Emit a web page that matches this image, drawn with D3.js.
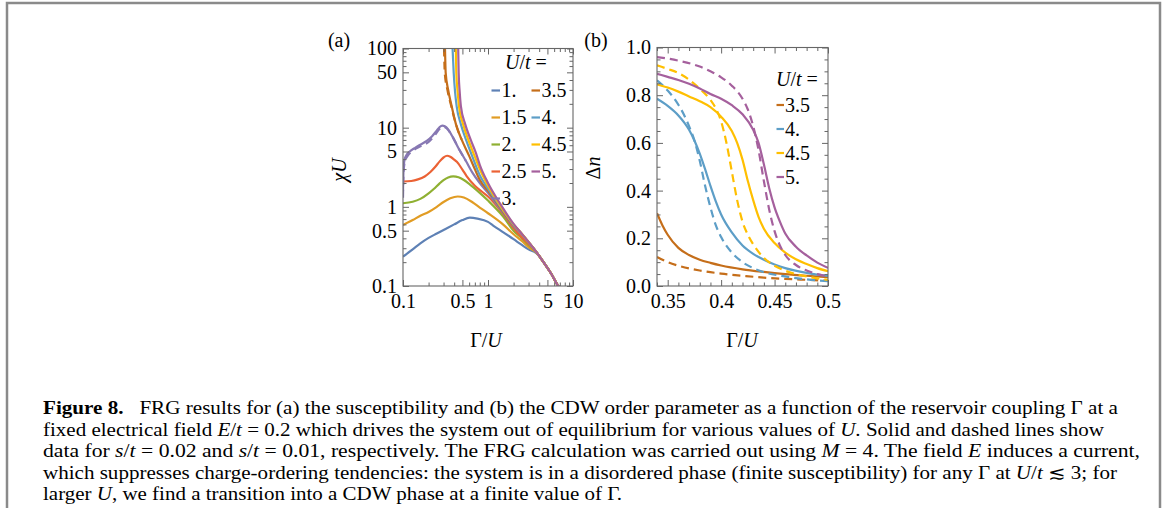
<!DOCTYPE html>
<html>
<head>
<meta charset="utf-8">
<script src="https://cdn.jsdelivr.net/npm/d3@7"></script>
<style>
  body { margin: 0; background: #fff; }
  svg text { font-family: "Liberation Serif", serif; fill: #000; }
  .tick line { stroke: #666; stroke-width: 1; }
  .caption { font-family: "Liberation Serif", serif; font-size: 18px; white-space: pre; }
</style>
</head>
<body>
<svg id="fig" width="1163" height="508"></svg>
<script>
/*
DATA
*/
// panel (a): [Γ/U, χU] for each U/t, s/t = 0.02 (solid)
const chiU_1 = [[0.1,0.235],[0.13,0.29],[0.16,0.345],[0.2,0.405],[0.25,0.46],[0.3,0.51],[0.4,0.6],[0.5,0.68],[0.61,0.73],[0.75,0.71],[1,0.645],[1.15,0.58],[1.5,0.48],[2,0.39],[2.5,0.33],[3,0.29],[3.7,0.26],[4.5,0.2],[5.5,0.145],[6.7,0.1],[8,0.077]];
const chiU_15 = [[0.1,0.59],[0.13,0.68],[0.16,0.77],[0.2,0.86],[0.25,1.0],[0.3,1.15],[0.36,1.28],[0.44,1.35],[0.52,1.31],[0.65,1.15],[0.8,0.98],[1,0.83],[1.5,0.6],[2,0.45],[2.5,0.37],[3,0.31],[3.7,0.265],[4.5,0.2],[5.5,0.145],[6.7,0.1],[8,0.077]];
const chiU_2 = [[0.1,1.11],[0.13,1.16],[0.16,1.26],[0.2,1.48],[0.23,1.68],[0.27,1.98],[0.3,2.18],[0.34,2.35],[0.39,2.42],[0.45,2.36],[0.52,2.18],[0.6,1.95],[0.8,1.5],[1,1.2],[1.5,0.76],[2,0.5],[2.5,0.4],[3,0.33],[3.7,0.268],[4.5,0.2],[5.5,0.145],[6.7,0.1],[8,0.077]];
const chiU_25 = [[0.1,2.09],[0.125,2.12],[0.15,2.22],[0.18,2.42],[0.21,2.75],[0.24,3.2],[0.27,3.75],[0.3,4.2],[0.33,4.42],[0.36,4.3],[0.4,3.95],[0.43,3.7],[0.5,2.95],[0.56,2.45],[0.7,1.85],[0.85,1.55],[1,1.35],[1.5,0.82],[2,0.54],[2.5,0.41],[3,0.34],[3.7,0.27],[4.5,0.2],[5.5,0.145],[6.7,0.1],[8,0.077]];
const chiU_3 = [[0.1,1.6],[0.1015,3.0],[0.104,3.9],[0.11,4.5],[0.12,5.0],[0.14,5.6],[0.16,6.1],[0.19,6.8],[0.22,7.8],[0.25,9.2],[0.27,10.2],[0.29,10.6],[0.31,10.4],[0.34,9.5],[0.38,7.8],[0.45,5.5],[0.55,3.8],[0.65,2.75],[0.8,2.0],[1,1.5],[1.4,0.93],[2,0.57],[2.4,0.47],[3,0.355],[3.7,0.27],[4.5,0.2],[5.5,0.145],[6.7,0.1],[8,0.077]];
const chiU_35 = [[0.312,100],[0.318,49],[0.34,30],[0.374,18.6],[0.42,11],[0.49,7.05],[0.6,4.4],[0.7,3.0],[0.8,2.2],[1,1.6],[1.4,0.97],[2,0.58],[2.4,0.475],[3,0.357],[3.7,0.27],[4.5,0.2],[5.5,0.145],[6.7,0.1],[8,0.077]];
const chiU_4 = [[0.383,100],[0.395,49],[0.41,28],[0.428,18.6],[0.48,11],[0.551,7.05],[0.65,4.4],[0.8,2.5],[1,1.7],[1.4,1.0],[2,0.59],[2.4,0.478],[3,0.358],[3.7,0.27],[4.5,0.2],[5.5,0.145],[6.7,0.1],[8,0.077]];
const chiU_45 = [[0.418,100],[0.424,49],[0.44,28],[0.456,18.6],[0.51,11],[0.586,7.05],[0.7,4.3],[0.8,3.0],[1,1.85],[1.4,1.03],[2,0.6],[2.4,0.48],[3,0.36],[3.7,0.27],[4.5,0.2],[5.5,0.145],[6.7,0.1],[8,0.077]];
const chiU_5 = [[0.446,100],[0.452,49],[0.465,28],[0.48,18.6],[0.54,11],[0.625,7.05],[0.72,4.8],[0.8,3.4],[1,2.0],[1.4,1.08],[2,0.61],[2.4,0.48],[3,0.36],[3.7,0.27],[4.5,0.2],[5.5,0.145],[6.7,0.1],[8,0.077]];
// panel (a): s/t = 0.01 (dashed), only where it separates from the solid line
const chiU_3_dashed = [[0.1,1.3],[0.1015,2.7],[0.105,3.7],[0.115,4.5],[0.13,5.1],[0.16,5.8],[0.2,6.6],[0.24,8.2],[0.27,9.7],[0.3,10.3],[0.33,9.7],[0.38,7.8],[0.45,5.5],[0.55,3.8]];
const chiU_35_dashed = [[0.304,100],[0.31,49],[0.333,30],[0.37,18.6],[0.42,11],[0.49,7.05]];

// panel (b): [Γ/U, Δn]
const dn_35 = [[0.34,0.305],[0.345,0.255],[0.35,0.215],[0.36,0.16],[0.37,0.13],[0.38,0.11],[0.39,0.097],[0.40,0.086],[0.42,0.07],[0.44,0.059],[0.46,0.05],[0.48,0.043],[0.5,0.037]];
const dn_35_dashed = [[0.34,0.122],[0.35,0.1],[0.36,0.085],[0.38,0.065],[0.40,0.052],[0.42,0.043],[0.44,0.035],[0.46,0.03],[0.48,0.026],[0.5,0.022]];
const dn_4 = [[0.34,0.785],[0.35,0.755],[0.36,0.715],[0.37,0.655],[0.375,0.61],[0.38,0.555],[0.385,0.49],[0.39,0.42],[0.395,0.355],[0.40,0.3],[0.41,0.225],[0.42,0.17],[0.43,0.135],[0.44,0.11],[0.45,0.09],[0.46,0.075],[0.48,0.055],[0.5,0.042]];
const dn_4_dashed = [[0.34,0.862],[0.35,0.82],[0.36,0.76],[0.365,0.72],[0.37,0.67],[0.375,0.61],[0.38,0.525],[0.385,0.42],[0.39,0.33],[0.395,0.255],[0.40,0.205],[0.41,0.14],[0.42,0.1],[0.43,0.075],[0.44,0.058],[0.46,0.04],[0.48,0.028],[0.5,0.02]];
const dn_45 = [[0.34,0.845],[0.35,0.832],[0.36,0.815],[0.37,0.795],[0.38,0.775],[0.39,0.75],[0.40,0.71],[0.41,0.65],[0.415,0.6],[0.42,0.53],[0.425,0.44],[0.43,0.36],[0.435,0.29],[0.44,0.24],[0.45,0.18],[0.46,0.14],[0.47,0.112],[0.48,0.092],[0.49,0.075],[0.5,0.062]];
const dn_45_dashed = [[0.34,0.925],[0.35,0.91],[0.36,0.893],[0.37,0.865],[0.38,0.827],[0.39,0.78],[0.395,0.745],[0.40,0.69],[0.405,0.6],[0.41,0.48],[0.415,0.36],[0.42,0.27],[0.425,0.215],[0.43,0.175],[0.44,0.118],[0.45,0.085],[0.46,0.064],[0.47,0.05],[0.48,0.04],[0.49,0.032],[0.5,0.026]];
const dn_5 = [[0.34,0.89],[0.35,0.877],[0.36,0.864],[0.37,0.848],[0.38,0.828],[0.39,0.805],[0.40,0.785],[0.41,0.758],[0.42,0.72],[0.43,0.655],[0.435,0.6],[0.44,0.51],[0.445,0.41],[0.45,0.33],[0.455,0.27],[0.46,0.22],[0.47,0.165],[0.48,0.128],[0.49,0.098],[0.5,0.076]];
const dn_5_dashed = [[0.34,0.96],[0.36,0.945],[0.38,0.92],[0.39,0.9],[0.40,0.875],[0.41,0.84],[0.42,0.785],[0.425,0.74],[0.43,0.67],[0.435,0.57],[0.44,0.44],[0.445,0.32],[0.45,0.23],[0.455,0.17],[0.46,0.13],[0.47,0.088],[0.48,0.065],[0.49,0.05],[0.5,0.04]];

// legends
const uLabels = ["1.", "1.5", "2.", "2.5", "3.", "3.5", "4.", "4.5", "5."];
const uColors = ["#5E81B5", "#E19C24", "#8FB032", "#EB6235", "#8778B3", "#C56E1A", "#5D9EC7", "#FFBF00", "#A5609D"];
const seriesA = [chiU_1, chiU_15, chiU_2, chiU_25, chiU_3, chiU_35, chiU_4, chiU_45, chiU_5];
const dashedA = [[chiU_3_dashed, 4], [chiU_35_dashed, 5]];
const seriesB = [[dn_35, dn_35_dashed, 5], [dn_4, dn_4_dashed, 6], [dn_45, dn_45_dashed, 7], [dn_5, dn_5_dashed, 8]];

// ticks
const aTicks = [0.1, 0.5, 1, 5, 10];
const aTickLabels = ["0.1", "0.5", "1", "5", "10"];
const aTicksY = [0.1, 0.5, 1, 5, 10, 50, 100];
const aTickLabelsY = ["0.1", "0.5", "1", "5", "10", "50", "100"];
const bTicks = [0.35, 0.4, 0.45, 0.5];
const bTickLabels = ["0.35", "0.4", "0.45", "0.5"];
const bTicksY = [0, 0.2, 0.4, 0.6, 0.8, 1.0];
const bTickLabelsY = ["0.0", "0.2", "0.4", "0.6", "0.8", "1.0"];

// caption
const captionLines = [
  [["Figure 8.", "b"], ["   FRG results for (a) the susceptibility and (b) the CDW order parameter as a function of the reservoir coupling \u0393 at a", ""]],
  [["fixed electrical field ", ""], ["E", "i"], ["/", ""], ["t", "i"], [" = 0.2 which drives the system out of equilibrium for various values of ", ""], ["U", "i"], [". Solid and dashed lines show", ""]],
  [["data for ", ""], ["s", "i"], ["/", ""], ["t", "i"], [" = 0.02 and ", ""], ["s", "i"], ["/", ""], ["t", "i"], [" = 0.01, respectively. The FRG calculation was carried out using ", ""], ["M", "i"], [" = 4. The field ", ""], ["E", "i"], [" induces a current,", ""]],
  [["which suppresses charge-ordering tendencies: the system is in a disordered phase (finite susceptibility) for any \u0393 at ", ""], ["U", "i"], ["/", ""], ["t", "i"], [" \u2272 3; for", ""]],
  [["larger ", ""], ["U", "i"], [", we find a transition into a CDW phase at a finite value of \u0393.", ""]]
];
const captionWidths = [1075, 1061, 1097, 1074, 579];

/*
SVG + FRAME
*/
const svg = d3.select("#fig");

svg.append("path")
    .attr("d", "M7,508V3H1160V508")
    .attr("fill", "none")
    .attr("stroke", "#8a8a8a")
    .attr("stroke-width", 2.5);

const A = { left: 403, right: 573, top: 48.5, bottom: 286 };
const B = { left: 657, right: 828, top: 47.5, bottom: 286 };

const xA = d3.scaleLog().domain([0.1, 10]).range([A.left, A.right]);
const yA = d3.scaleLog().domain([0.1, 100]).range([A.bottom, A.top]);
const xB = d3.scaleLinear().domain([0.34, 0.5]).range([B.left, B.right]);
const yB = d3.scaleLinear().domain([0, 1]).range([B.bottom, B.top]);

function logMinor(lo, hi, majors) {
    const out = [];
    for (let e = Math.floor(Math.log10(lo)); e < Math.log10(hi); e++) {
        for (let k = 1; k < 10; k++) {
            const v = +(k * Math.pow(10, e)).toPrecision(6);
            if (v >= lo && v <= hi && !majors.includes(v)) out.push(v);
        }
    }
    return out;
}

function linMinor(lo, hi, step, majors) {
    return d3.range(Math.round(lo / step), Math.round(hi / step) + 1)
        .map(i => +(i * step).toFixed(4))
        .filter(v => !majors.some(m => Math.abs(m - v) < 1e-6));
}

// draws a Mathematica-like frame with inward ticks on all four sides
function drawFrame(P, x, y, xMaj, xLab, xMin, yMaj, yLab, yMin) {
    const g = svg.append("g");
    const sides = [
        [d3.axisBottom, x, `translate(0,${P.bottom})`, true, xMaj, xLab, xMin],
        [d3.axisTop, x, `translate(0,${P.top})`, false, xMaj, xLab, xMin],
        [d3.axisLeft, y, `translate(${P.left},0)`, true, yMaj, yLab, yMin],
        [d3.axisRight, y, `translate(${P.right},0)`, false, yMaj, yLab, yMin]
    ];
    sides.forEach(function (s) {
        const [fn, sc, tr, labelled, maj, lab, mn] = s;
        const isX = fn === d3.axisBottom || fn === d3.axisTop;
        g.append("g")
            .attr("transform", tr)
            .call(fn(sc).tickValues(maj).tickSizeInner(-6).tickSizeOuter(0)
                .tickPadding(isX ? 8 : 6)
                .tickFormat((d, i) => labelled ? lab[i] : ""))
            .call(a => a.select(".domain").remove());
        g.append("g")
            .attr("transform", tr)
            .call(fn(sc).tickValues(mn).tickSizeInner(-3.5).tickSizeOuter(0).tickFormat(""))
            .call(a => a.select(".domain").remove());
    });
    g.selectAll(".tick text")
        .attr("font-family", "Liberation Serif")
        .attr("font-size", 20)
        .attr("fill", "#000");
    g.append("rect")
        .attr("x", P.left).attr("y", P.top)
        .attr("width", P.right - P.left).attr("height", P.bottom - P.top)
        .attr("fill", "none").attr("stroke", "#666").attr("stroke-width", 1.1);
}

/*
CLIP AREAS + LINE GENERATORS
*/
svg.append("clipPath").attr("id", "clipA").append("rect")
    .attr("x", A.left).attr("y", A.top).attr("width", A.right - A.left).attr("height", A.bottom - A.top);
svg.append("clipPath").attr("id", "clipB").append("rect")
    .attr("x", B.left).attr("y", B.top).attr("width", B.right - B.left).attr("height", B.bottom - B.top);

const lineA = d3.line().x(d => xA(d[0])).y(d => yA(d[1])).curve(d3.curveMonotoneX);
const lineB = d3.line().x(d => xB(d[0])).y(d => yB(d[1])).curve(d3.curveMonotoneX);

/*
PANEL (a)
*/
const curvesA = svg.append("g").attr("clip-path", "url(#clipA)");

dashedA.forEach(function (d) {
    curvesA.append("path")
        .attr("d", lineA(d[0]))
        .attr("fill", "none")
        .attr("stroke", uColors[d[1]])
        .attr("stroke-width", 2.2)
        .attr("stroke-dasharray", "8,5");
});

seriesA.forEach(function (data, i) {
    curvesA.append("path")
        .attr("d", lineA(data))
        .attr("fill", "none")
        .attr("stroke", uColors[i])
        .attr("stroke-width", 2.2);
});

drawFrame(A, xA, yA, aTicks, aTickLabels, logMinor(0.1, 10, aTicks),
    aTicksY, aTickLabelsY, logMinor(0.1, 100, aTicksY));

/*
PANEL (b)
*/
const curvesB = svg.append("g").attr("clip-path", "url(#clipB)");

seriesB.forEach(function (s) {
    curvesB.append("path")
        .attr("d", lineB(s[1]))
        .attr("fill", "none")
        .attr("stroke", uColors[s[2]])
        .attr("stroke-width", 2.2)
        .attr("stroke-dasharray", "8,5");
    curvesB.append("path")
        .attr("d", lineB(s[0]))
        .attr("fill", "none")
        .attr("stroke", uColors[s[2]])
        .attr("stroke-width", 2.2);
});

drawFrame(B, xB, yB, bTicks, bTickLabels, linMinor(0.34, 0.5, 0.01, bTicks),
    bTicksY, bTickLabelsY, linMinor(0, 1, 0.05, bTicksY));

/*
LEGENDS
*/
function legendTitle(x, y) {
    const t = svg.append("text").attr("x", x).attr("y", y).attr("font-size", 20);
    t.append("tspan").attr("font-style", "italic").text("U");
    t.append("tspan").text("/");
    t.append("tspan").attr("font-style", "italic").text("t");
    t.append("tspan").text(" =");
}

legendTitle(505, 69);
uLabels.forEach(function (lab, i) {
    const col = i < 5 ? 0 : 1;
    const row = i % 5;
    const x0 = col === 0 ? 491.5 : 531.5;
    const yc = 90.5 + row * 27;
    svg.append("line")
        .attr("x1", x0).attr("x2", x0 + 8.5)
        .attr("y1", yc).attr("y2", yc)
        .attr("stroke", uColors[i]).attr("stroke-width", 2.2);
    svg.append("text")
        .attr("x", x0 + 10).attr("y", yc + 6.5)
        .attr("font-size", 20)
        .text(lab);
});

legendTitle(776, 86);
seriesB.forEach(function (s, i) {
    const x0 = 776.5;
    const yc = 105 + i * 24;
    svg.append("line")
        .attr("x1", x0).attr("x2", x0 + 7.5)
        .attr("y1", yc).attr("y2", yc)
        .attr("stroke", uColors[s[2]]).attr("stroke-width", 2.2);
    svg.append("text")
        .attr("x", x0 + 8.5).attr("y", yc + 6.5)
        .attr("font-size", 20)
        .text(uLabels[s[2]]);
});

/*
AXIS LABELS + PANEL LETTERS
*/
function mathLabel(parts, x, y, rotate) {
    const t = svg.append("text")
        .attr("text-anchor", "middle")
        .attr("font-size", 20)
        .attr("transform", `translate(${x},${y})` + (rotate ? " rotate(-90)" : ""));
    parts.forEach(p => t.append("tspan").attr("font-style", p[1] ? "italic" : "normal").text(p[0]));
}

mathLabel([["\u03C7", true], ["U", true]], 346, 170, true);
mathLabel([["\u0393", false], ["/", false], ["U", true]], 486, 347, false);
mathLabel([["\u0394", false], ["n", true]], 600, 168, true);
mathLabel([["\u0393", false], ["/", false], ["U", true]], 742, 347, false);

svg.append("text").attr("x", 339).attr("y", 47).attr("text-anchor", "middle").attr("font-size", 20).text("(a)");
svg.append("text").attr("x", 596).attr("y", 47).attr("text-anchor", "middle").attr("font-size", 20).text("(b)");

/*
CAPTION
*/
captionLines.forEach(function (segs, i) {
    const t = svg.append("text")
        .attr("class", "caption")
        .attr("x", 43)
        .attr("y", 414 + i * 21.5)
        .attr("textLength", captionWidths[i])
        .attr("lengthAdjust", "spacingAndGlyphs");
    segs.forEach(function (s) {
        t.append("tspan")
            .attr("font-weight", s[1] === "b" ? "bold" : "normal")
            .attr("font-style", s[1] === "i" ? "italic" : "normal")
            .text(s[0]);
    });
});
</script>
</body>
</html>
